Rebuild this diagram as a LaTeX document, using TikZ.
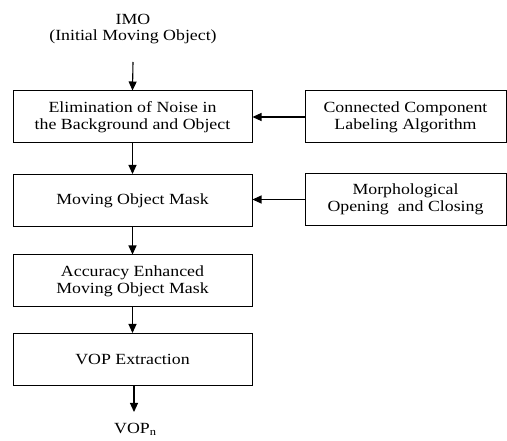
\documentclass[tikz,border=0pt]{standalone}
\usepackage{fontspec}
\setmainfont{Liberation Serif}[FakeStretch=1.15]
\usetikzlibrary{arrows.meta}

\tikzset{
  blk/.style={draw, line width=1pt, minimum height=52pt, align=center, inner sep=0pt},
  flow/.style={line width=1.1pt, -{Triangle[length=9pt,width=8pt]}}
}

\begin{document}
\begin{tikzpicture}[x=1pt,y=-1pt,font=\fontsize{15.5}{17}\selectfont]
  \useasboundingbox (0,0) rectangle (507,441);
  % main column
  \node[align=center, font=\fontsize{15.5}{15.5}\selectfont] (imo) at (133,29) {IMO\\(Initial Moving Object)};
  \coordinate (imoout) at (133,62);
  \node[blk, minimum width=239pt] (noise) at (132.5,117) {Elimination of Noise in\\the Background and Object};
  \node[blk, minimum width=239pt] (mask) at (132.5,200.5) {Moving Object Mask};
  \node[blk, minimum width=239pt] (acc) at (132.5,281) {Accuracy Enhanced\\Moving Object Mask};
  \node[blk, minimum width=239pt] (vop) at (132.5,359.5) {VOP Extraction};
  \coordinate (vopin) at (134,412);
  \node (vopn) at (135,429) {VOP$_{\mathrm{n}}$};
  % side inputs
  \node[blk, minimum width=201pt] (ccl) at (405.5,117) {Connected Component\\Labeling Algorithm};
  \node[blk, minimum width=201pt] (morph) at (405.5,199.5) {Morphological\\Opening\ \ and Closing};
  % connectors
  \draw[flow] (imoout) -- (noise.north);
  \draw[flow] (noise) -- (mask);
  \draw[flow] (mask) -- (acc);
  \draw[flow] (acc) -- (vop);
  \draw[flow] (vop.south -| vopin) -- (vopin);
  \draw[flow] (ccl) -- (noise);
  \draw[flow] (morph.west) -- (mask.east |- morph.west);
\end{tikzpicture}
\end{document}
